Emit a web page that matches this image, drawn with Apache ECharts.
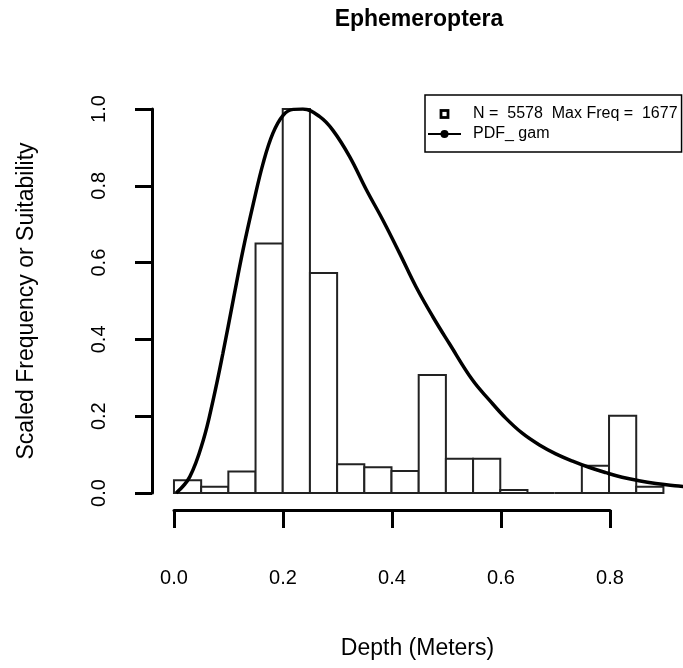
<!DOCTYPE html>
<html>
<head>
<meta charset="utf-8">
<script src="https://cdn.jsdelivr.net/npm/echarts@6/dist/echarts.min.js"></script>
<style>
html,body{margin:0;padding:0;background:#fff;}
#chart{width:683px;height:668px;}
</style>
</head>
<body>
<div id="chart"></div>
<script>
// ---- data ----
const chartTitle = 'Ephemeroptera';
const xAxisTitle = 'Depth (Meters)';
const yAxisTitle = 'Scaled Frequency or Suitability';
const histLabel = 'N =  5578  Max Freq =  1677';
const curveLabel = 'PDF_ gam';
const binEdges = [0, 0.05, 0.10, 0.15, 0.20, 0.25, 0.30, 0.35, 0.40, 0.45, 0.50, 0.55, 0.60, 0.65, 0.70, 0.75, 0.80, 0.85, 0.90];
const binFreq = [0.033, 0.016, 0.056, 0.650, 1.000, 0.573, 0.075, 0.067, 0.057, 0.307, 0.089, 0.089, 0.008, 0, 0, 0.071, 0.201, 0.016];
const pdfX = [0.004, 0.029, 0.054, 0.072, 0.090, 0.109, 0.127, 0.146, 0.164, 0.182, 0.201, 0.219, 0.237, 0.268, 0.292, 0.323, 0.354, 0.384, 0.415, 0.445, 0.476, 0.506, 0.549, 0.580, 0.610, 0.641, 0.672, 0.702, 0.733, 0.763, 0.794, 0.824, 0.855, 0.886, 0.928, 0.94];
const pdfY = [0.000, 0.042, 0.138, 0.242, 0.364, 0.503, 0.633, 0.754, 0.859, 0.937, 0.984, 0.999, 1.000, 0.980, 0.945, 0.876, 0.789, 0.711, 0.624, 0.537, 0.459, 0.390, 0.294, 0.242, 0.195, 0.155, 0.125, 0.102, 0.083, 0.067, 0.053, 0.041, 0.032, 0.025, 0.018, 0.016];
const xTicks = [0, 0.2, 0.4, 0.6, 0.8];
const yTicks = [0, 0.2, 0.4, 0.6, 0.8, 1.0];

// ---- build ----
const histData = binFreq.map((v, i) => [binEdges[i], binEdges[i + 1], v]);
const curveData = pdfX.map((x, i) => [x, pdfY[i]]);
const FONT = 'Liberation Sans, Arial, Helvetica, sans-serif';
const squareIcon = 'image://data:image/svg+xml;utf8,' + encodeURIComponent(
  "<svg xmlns='http://www.w3.org/2000/svg' width='33' height='10' viewBox='0 0 33 10'>" +
  "<rect x='13' y='1.5' width='7' height='7' fill='white' stroke='black' stroke-width='2.8'/></svg>");

const chart = echarts.init(document.getElementById('chart'), null, {renderer: 'canvas'});
chart.setOption({
  animation: false,
  backgroundColor: '#fff',
  title: {
    text: chartTitle, left: 419, top: 8, padding: 0, textAlign: 'center',
    textStyle: {fontFamily: FONT, fontSize: 23, fontWeight: 'bold', color: '#000'}
  },
  legend: {
    orient: 'vertical', left: 425, top: 95,
    padding: [11, 4, 10, 2], itemGap: 4, itemWidth: 33, itemHeight: 10,
    borderColor: '#000', borderWidth: 1.5, borderRadius: 0,
    textStyle: {fontFamily: FONT, fontSize: 16, color: '#000', padding: [0, 0, 0, 7]},
    data: [{name: histLabel, icon: squareIcon}, {name: curveLabel}]
  },
  grid: [
    {left: 152, top: 109, width: 532, height: 384},
    {left: 174, top: 109, width: 436, height: 384}
  ],
  xAxis: [
    {
      type: 'value', gridIndex: 0, min: -0.0404, max: 0.936,
      axisLine: {show: false}, axisTick: {show: false}, axisLabel: {show: false}, splitLine: {show: false},
      name: xAxisTitle, nameLocation: 'middle', nameGap: 144,
      nameTextStyle: {fontFamily: FONT, fontSize: 23, color: '#000'}
    },
    {
      type: 'value', gridIndex: 1, min: 0, max: 0.8, interval: 0.2, offset: 17,
      axisLine: {show: true, onZero: false, lineStyle: {color: '#000', width: 3}},
      axisTick: {show: true, length: 18, lineStyle: {color: '#000', width: 3}},
      axisLabel: {fontFamily: FONT, fontSize: 20, color: '#000', margin: 58,
        customValues: xTicks, formatter: v => v.toFixed(1)},
      splitLine: {show: false}
    }
  ],
  yAxis: [
    {
      type: 'value', gridIndex: 0, min: 0, max: 1, interval: 0.2,
      axisLine: {show: true, onZero: false, lineStyle: {color: '#000', width: 3}},
      axisTick: {show: true, length: 17, lineStyle: {color: '#000', width: 3}},
      axisLabel: {fontFamily: FONT, fontSize: 20, color: '#000', margin: 43, rotate: 90,
        customValues: yTicks, formatter: v => v.toFixed(1)},
      splitLine: {show: false},
      name: yAxisTitle, nameLocation: 'middle', nameGap: 114, nameRotate: 90,
      nameTextStyle: {fontFamily: FONT, fontSize: 23, color: '#000'}
    },
    {type: 'value', gridIndex: 1, min: 0, max: 1, show: false}
  ],
  series: [
    {
      name: histLabel, type: 'custom', xAxisIndex: 0, yAxisIndex: 0,
      data: histData, z: 2, itemStyle: {color: '#fff', borderColor: '#222'},
      renderItem: function (params, api) {
        const p0 = api.coord([api.value(0), 0]);
        const p1 = api.coord([api.value(1), api.value(2)]);
        return {
          type: 'rect',
          shape: {x: p0[0], y: p1[1], width: p1[0] - p0[0], height: p0[1] - p1[1]},
          style: {fill: '#fff', stroke: '#222', lineWidth: 2}
        };
      }
    },
    {
      name: curveLabel, type: 'line', xAxisIndex: 0, yAxisIndex: 0,
      data: curveData, smooth: 0.4, symbol: 'circle', symbolSize: 7, showSymbol: false,
      z: 3, color: '#000',
      lineStyle: {color: '#000', width: 3.5},
      itemStyle: {color: '#000'}
    }
  ]
});
</script>
</body>
</html>
